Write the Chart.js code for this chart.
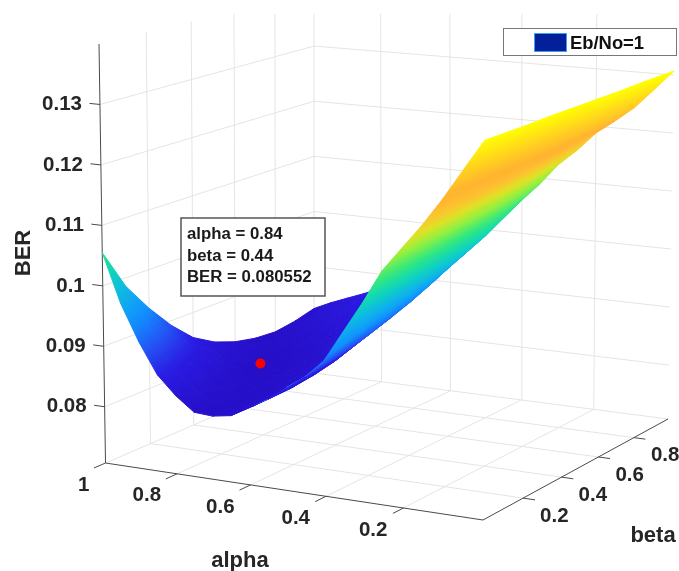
<!DOCTYPE html>
<html>
<head>
<meta charset="utf-8">
<style>
  html, body { margin: 0; padding: 0; background: #fff; }
  canvas { display: block; }
</style>
<script src="https://cdn.jsdelivr.net/npm/chart.js@4/dist/chart.umd.min.js"></script>
</head>
<body>
<canvas id="surf" width="679" height="571"></canvas>
<script>
const alphaVals = [0, .05, .1, .15, .2, .25, .3, .35, .4, .45, .5, .55, .6, .65, .7, .75, .8, .85, .9, .95, 1];
const betaVals = [0, .1, .2, .3, .4, .5, .6, .7, .8, .9, 1];
// one row per alpha, one column per beta
const berRows = [
    [.1305, .1305, .1305, .1306, .1306, .1306, .1306, .1306, .1307, .1307, .1307],
    [.1255, .1257, .1259, .1261, .1263, .1265, .1266, .1268, .1269, .1271, .1272],
    [.1205, .1208, .1212, .1215, .1218, .1222, .1225, .1228, .1231, .1235, .1238],
    [.1160, .1165, .1170, .1175, .1180, .1185, .1190, .1195, .1200, .1206, .1212],
    [.1120, .1127, .1134, .1141, .1148, .1154, .1160, .1167, .1174, .1181, .1188],
    [.1080, .1088, .1096, .1104, .1112, .1119, .1126, .1133, .1140, .1148, .1155],
    [.1025, .1036, .1047, .1058, .1069, .1078, .1087, .1097, .1107, .1117, .1127],
    [.0975, .0987, .0998, .1010, .1021, .1032, .1043, .1054, .1066, .1078, .1090],
    [.0925, .0938, .0950, .0963, .0975, .0987, .0998, .1009, .1021, .1040, .1058],
    [.0895, .0905, .0916, .0927, .0938, .0950, .0962, .0975, .0990, .1010, .1030],
    [.0873, .0878, .0885, .0893, .0903, .0915, .0928, .0943, .0960, .0982, .1005],
    [.0850, .0852, .0858, .0866, .0876, .0888, .0902, .0918, .0936, .0960, .0985],
    [.0835, .0833, .0835, .0840, .0848, .0860, .0874, .0890, .0910, .0937, .0965],
    [.0815, .0815, .0817, .0822, .0829, .0840, .0853, .0868, .0888, .0915, .0945],
    [.0810, .0810, .0810, .0812, .0816, .0824, .0835, .0848, .0867, .0895, .0925],
    [.0812, .0811, .0809, .0809, .0811, .0816, .0825, .0836, .0852, .0875, .0900],
    [.0835, .0825, .0817, .0811, .0808, .0810, .0816, .0826, .0840, .0856, .0875],
    [.0865, .0848, .0831, .0818, .0807, .0805, .0810, .0820, .0832, .0846, .0862],
    [.0915, .0887, .0860, .0840, .0822, .0811, .0810, .0815, .0825, .0837, .0850],
    [.0975, .0935, .0898, .0866, .0841, .0825, .0816, .0812, .0817, .0826, .0838],
    [.1055, .0985, .0935, .0892, .0857, .0835, .0821, .0813, .0810, .0815, .0824]
];
const alphaTicks = [1, .8, .6, .4, .2];
const betaTicks = [.2, .4, .6, .8];
const berTicks = [.08, .09, .1, .11, .12, .13];
// where the red dot sits in the picture, a little above the value the tip prints
const tipPoint = [.84, .455, .0817];
const tipLines = ['alpha = 0.84', 'beta = 0.44', 'BER = 0.080552'];
const legendText = 'Eb/No=1';

// colour along BER, close to what the picture shows
const colourBer = [.0805, .086, .090, .094, .098, .102, .106, .110, .114, .118, .121, .125, .1307];
const colourRgb = [[38, 14, 198], [42, 26, 226], [36, 84, 246], [16, 144, 255], [14, 178, 236], [14, 212, 190],
    [48, 232, 128], [144, 240, 64], [224, 226, 36], [255, 190, 48], [255, 178, 48], [255, 208, 32], [255, 255, 0]];

const zFloor = .0707, zTop = .14;

function colourFor(z) {
    let i = 0;
    while (i < colourBer.length - 2 && z > colourBer[i + 1]) i++;
    const f = Math.min(1, Math.max(0, (z - colourBer[i]) / (colourBer[i + 1] - colourBer[i])));
    const c = colourRgb[i].map((v, k) => Math.round(v + (colourRgb[i + 1][k] - v) * f));
    return `rgb(${c[0]},${c[1]},${c[2]})`;
}

// square -> quad mapping, corners in order (alpha=1,beta=0) (alpha=0,beta=0) (alpha=0,beta=1) (alpha=1,beta=1)
function makePlane(q) {
    const [[x0, y0], [x1, y1], [x2, y2], [x3, y3]] = q;
    const dx1 = x1 - x2, dx2 = x3 - x2, dy1 = y1 - y2, dy2 = y3 - y2;
    const sx = x0 - x1 + x2 - x3, sy = y0 - y1 + y2 - y3;
    const den = dx1 * dy2 - dx2 * dy1;
    const g = (sx * dy2 - dx2 * sy) / den, h = (dx1 * sy - sx * dy1) / den;
    const a = x1 - x0 + g * x1, b = x3 - x0 + h * x3, d = y1 - y0 + g * y1, e = y3 - y0 + h * y3;
    return (s, t) => {
        const w = g * s + h * t + 1;
        return [(a * s + b * t + x0) / w, (d * s + e * t + y0) / w];
    };
}
const floorPlane = makePlane([[105.5, 463], [483, 520], [668, 419], [314, 373]]);
const topPlane = makePlane([[99, 44], [485, 80], [675, 17], [314, -9]]);

function project(alpha, beta, z) {
    const a = floorPlane(1 - alpha, beta), b = topPlane(1 - alpha, beta);
    const f = (z - zFloor) / (zTop - zFloor);
    return { x: a[0] + (b[0] - a[0]) * f, y: a[1] + (b[1] - a[1]) * f };
}

function lineSet(p, q, color) {
    return { type: 'line', data: [p, q], borderColor: color, borderWidth: 1, pointRadius: 0, fill: false };
}

const ctx = document.getElementById('surf').getContext('2d');

// gradient across one patch so the colour does not step from patch to patch
function patchPaint(pts, zs) {
    const mx = (pts[0].x + pts[1].x + pts[2].x + pts[3].x) / 4, my = (pts[0].y + pts[1].y + pts[2].y + pts[3].y) / 4;
    const mz = (zs[0] + zs[1] + zs[2] + zs[3]) / 4;
    // direction of the fastest BER change on screen, from the two diagonals
    const ax = pts[2].x - pts[0].x, ay = pts[2].y - pts[0].y, az = zs[2] - zs[0];
    const bx = pts[3].x - pts[1].x, by = pts[3].y - pts[1].y, bz = zs[3] - zs[1];
    const det = ax * by - ay * bx;
    if (Math.abs(det) < 4 || (az === 0 && bz === 0)) return colourFor(mz);
    const gx = (az * by - bz * ay) / det, gy = (ax * bz - bx * az) / det;
    const gg = gx * gx + gy * gy;
    const ts = pts.map(p => ((p.x - mx) * gx + (p.y - my) * gy) / gg);
    const t0 = Math.min(...ts), t1 = Math.max(...ts);
    const grad = ctx.createLinearGradient(mx + gx * t0, my + gy * t0, mx + gx * t1, my + gy * t1);
    [0, .25, .5, .75, 1].forEach(f => grad.addColorStop(f, colourFor(mz + gg * (t0 + (t1 - t0) * f))));
    return grad;
}

const drawList = [];
const gridCol = '#e4e4e4', axisCol = '#4a4a4a';

// walls and floor
alphaTicks.forEach(a => {
    drawList.push(lineSet(project(a, 1, zFloor), project(a, 1, zTop), gridCol));
    if (a !== 1) drawList.push(lineSet(project(a, 0, zFloor), project(a, 1, zFloor), gridCol));
});
betaTicks.forEach(b => {
    drawList.push(lineSet(project(1, b, zFloor), project(1, b, zTop), gridCol));
    drawList.push(lineSet(project(0, b, zFloor), project(1, b, zFloor), gridCol));
});
berTicks.forEach(z => {
    drawList.push(lineSet(project(1, 0, z), project(1, 1, z), gridCol));
    drawList.push(lineSet(project(1, 1, z), project(0, 1, z), gridCol));
});
drawList.push(lineSet(project(1, 1, zFloor), project(0, 1, zFloor), gridCol));
drawList.push(lineSet(project(1, 0, zFloor), project(1, 1, zFloor), gridCol));

// axis lines and tick marks
drawList.push(lineSet(project(1, 0, zFloor), project(1, 0, zTop), axisCol));
drawList.push(lineSet(project(1, 0, zFloor), project(0, 0, zFloor), axisCol));
drawList.push(lineSet(project(0, 0, zFloor), project(0, 1, zFloor), axisCol));
alphaTicks.forEach(a => drawList.push(lineSet(project(a, 0, zFloor), project(a, -.05, zFloor), axisCol)));
betaTicks.forEach(b => drawList.push(lineSet(project(0, b, zFloor), project(-.03, b, zFloor), axisCol)));
berTicks.forEach(z => drawList.push(lineSet(project(1, 0, z), project(1.03, 0, z), axisCol)));

// surface patches, far ones first
const patches = [];
for (let i = 0; i < alphaVals.length - 1; i++) {
    for (let j = 0; j < betaVals.length - 1; j++) {
        const corners = [[i, j], [i + 1, j], [i + 1, j + 1], [i, j + 1]];
        const zs = corners.map(c => berRows[c[0]][c[1]]);
        const zMean = (zs[0] + zs[1] + zs[2] + zs[3]) / 4;
        const aMid = (alphaVals[i] + alphaVals[i + 1]) / 2, bMid = (betaVals[j] + betaVals[j + 1]) / 2;
        const depth = .956 * (-195 * (1 - aMid) + 378 * bMid) - 1818 * zMean;
        const pts = corners.map((c, k) => project(alphaVals[c[0]], betaVals[c[1]], zs[k]));
        const paint = patchPaint(pts, zs);
        pts.push(pts[0]);
        patches.push({ depth, set: { type: 'line', data: pts, borderColor: paint, backgroundColor: paint, borderWidth: 1, pointRadius: 0, fill: 'shape' } });
    }
}
patches.sort((p, q) => q.depth - p.depth);
patches.forEach(p => drawList.push(p.set));

drawList.push({
    type: 'scatter', data: [project(tipPoint[0], tipPoint[1], tipPoint[2])],
    pointRadius: 5, pointBackgroundColor: '#ff0000', pointBorderColor: '#ff0000', borderWidth: 0
});

const labelPlugin = {
    id: 'labelPlugin',
    afterDraw(chart) {
        const ctx = chart.ctx, sx = chart.scales.x, sy = chart.scales.y;
        const px = p => [sx.getPixelForValue(p.x), sy.getPixelForValue(p.y)];
        ctx.save();
        ctx.fillStyle = '#262626';
        ctx.textBaseline = 'middle';
        ctx.font = 'bold 20.5px "Liberation Sans"';

        ctx.textAlign = 'right';
        berTicks.forEach(z => {
            const [x, y] = px(project(1, 0, z));
            ctx.fillText(String(z), x - 18, y);
        });
        alphaTicks.forEach(a => {
            const [x, y] = px(project(a, 0, zFloor));
            ctx.fillText(String(a), x - 16, y + 22);
        });
        ctx.textAlign = 'left';
        betaTicks.forEach(b => {
            const [x, y] = px(project(0, b, zFloor));
            ctx.fillText(String(b), x + 17, y + 18);
        });

        ctx.font = 'bold 22px "Liberation Sans"';
        ctx.textAlign = 'center';
        ctx.fillText('alpha', 240, 561);
        ctx.fillText('beta', 653, 536);
        ctx.save();
        ctx.translate(24, 253);
        ctx.rotate(-Math.PI / 2);
        ctx.fillText('BER', 0, 0);
        ctx.restore();

        // data tip
        ctx.fillStyle = '#fff';
        ctx.strokeStyle = '#555';
        ctx.lineWidth = 1.5;
        ctx.fillRect(181, 218, 144, 78);
        ctx.strokeRect(181, 218, 144, 78);
        ctx.fillStyle = '#1a1a1a';
        ctx.font = 'bold 16.8px "Liberation Sans"';
        ctx.textAlign = 'left';
        tipLines.forEach((t, i) => ctx.fillText(t, 187, 234.5 + i * 21.5));

        // legend
        ctx.fillStyle = '#fff';
        ctx.strokeStyle = '#777';
        ctx.lineWidth = 1;
        ctx.fillRect(503.5, 28.5, 173, 27);
        ctx.strokeRect(503.5, 28.5, 173, 27);
        ctx.fillStyle = '#03209a';
        ctx.strokeStyle = '#3aa0f0';
        ctx.fillRect(534.5, 33.5, 32, 18);
        ctx.strokeRect(534.5, 33.5, 32, 18);
        ctx.fillStyle = '#111';
        ctx.font = 'bold 18.4px "Liberation Sans"';
        ctx.fillText(legendText, 570, 43.5);
        ctx.restore();
    }
};

// Chart.js paints the first dataset last, so the list goes in reversed
new Chart(ctx, {
    type: 'scatter',
    data: { datasets: drawList.reverse() },
    options: {
        responsive: false,
        animation: false,
        layout: { autoPadding: false, padding: { top: 14 } },
        plugins: { legend: { display: false }, tooltip: { enabled: false } },
        scales: {
            x: { type: 'linear', display: false, min: 0, max: 679 },
            y: { type: 'linear', display: false, min: 14, max: 571, reverse: true }
        }
    },
    plugins: [labelPlugin]
});
</script>
</body>
</html>
